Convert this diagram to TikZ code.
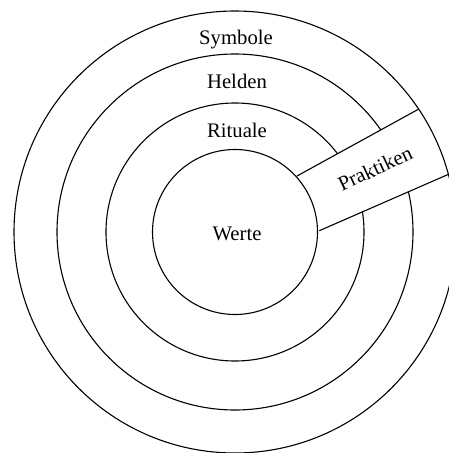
\documentclass[tikz,border=0pt]{standalone}
\usepackage{fontspec}
\setmainfont{Liberation Serif}
\usetikzlibrary{calc}
\begin{document}
\begin{tikzpicture}[x=1pt,y=-1pt,
  ring/.style={circle,draw,line width=1.1pt,inner sep=0pt},
  lbl/.style={font=\fontsize{20.7}{24}\selectfont,anchor=base,inner sep=0pt},
  band/.style={line width=1.1pt}]
\useasboundingbox (0,0) rectangle (449,453);
\coordinate (c) at (235,232);
% middle rings (hidden under band)
\node[ring,minimum size=356pt] (helden) at (c) {};
\node[ring,minimum size=258pt] (rituale) at (c) {};
% band corners
\coordinate (ui) at (297,176);
\coordinate (uo) at (418.3,109.3);
\coordinate (li) at (319.3,230.7);
\coordinate (lo) at (448.5,174.3);
\fill[white] (ui) -- (uo) -- ($(uo)!0.5!(lo)+(6,-2)$) -- (lo) -- (li) -- ($(ui)!0.5!(li)+(-6,2)$) -- cycle;
% outer and inner rings
\node[ring,minimum size=442pt] (symbole) at (c) {};
\node[ring,minimum size=165pt] (werte) at (c) {};
\draw[band] (ui) -- (uo);
\draw[band] (li) -- (lo);
% labels
\node[lbl] (tsym) at (236,44) {Symbole};
\node[lbl] (thel) at (237,88) {Helden};
\node[lbl] (trit) at (237,137) {Rituale};
\node[lbl] (twer) at (237,240) {Werte};
\node[lbl,rotate=25] (tprak) at (378,175) {Praktiken};
\end{tikzpicture}
\end{document}
